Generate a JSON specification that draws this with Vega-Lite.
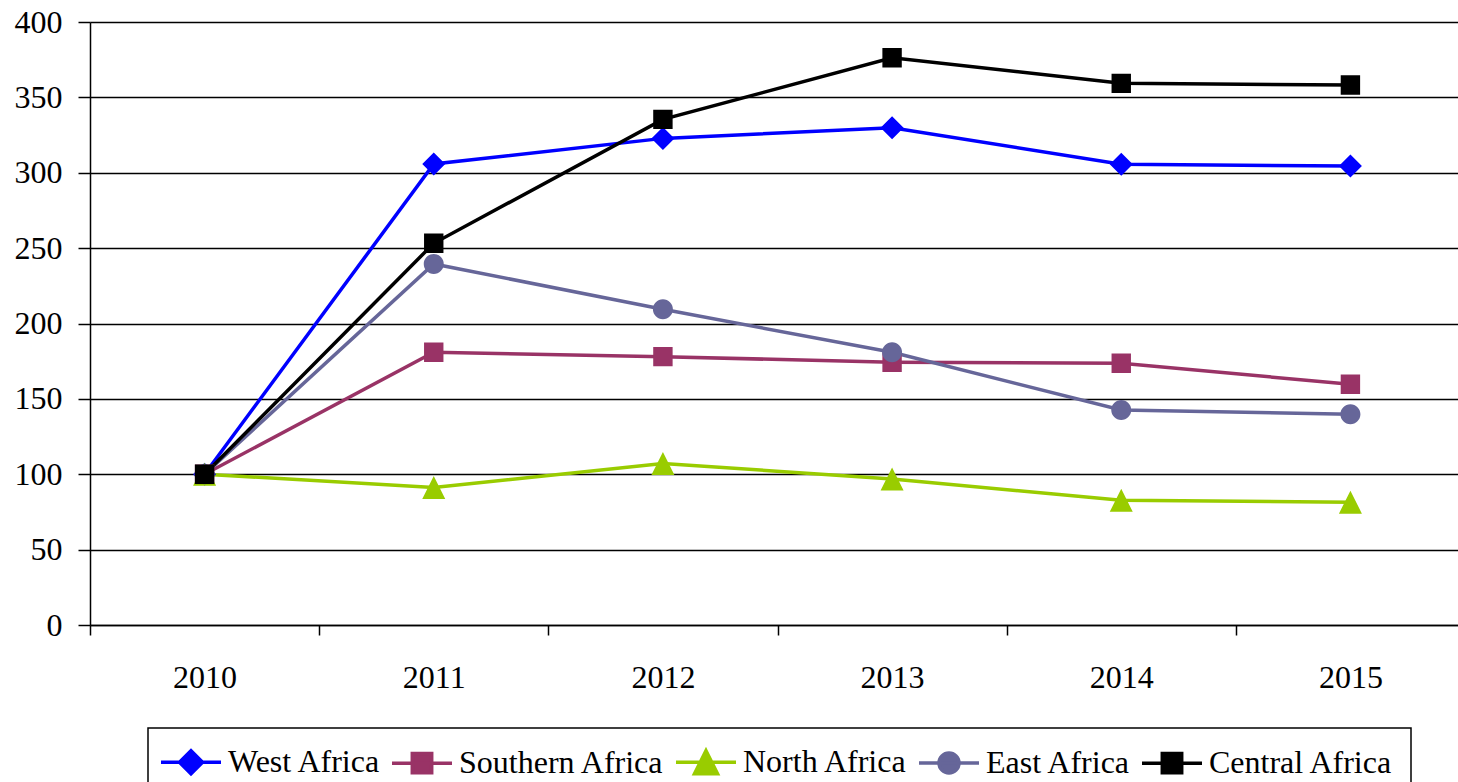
{
  "$schema": "https://vega.github.io/schema/vega-lite/v6.json",
  "autosize": {"type": "none"},
  "padding": {"left": 90, "top": 22, "right": 0, "bottom": 157},
  "width": 1368,
  "height": 603,
  "background": "white",
  "data": {
    "values": [
      {"series": "West Africa", "year": "2010", "value": 100},
      {"series": "West Africa", "year": "2011", "value": 305.8},
      {"series": "West Africa", "year": "2012", "value": 322.8},
      {"series": "West Africa", "year": "2013", "value": 329.9},
      {"series": "West Africa", "year": "2014", "value": 305.6},
      {"series": "West Africa", "year": "2015", "value": 304.5},
      {"series": "Southern Africa", "year": "2010", "value": 100},
      {"series": "Southern Africa", "year": "2011", "value": 180.9},
      {"series": "Southern Africa", "year": "2012", "value": 178},
      {"series": "Southern Africa", "year": "2013", "value": 174.3},
      {"series": "Southern Africa", "year": "2014", "value": 173.6},
      {"series": "Southern Africa", "year": "2015", "value": 159.7},
      {"series": "North Africa", "year": "2010", "value": 100},
      {"series": "North Africa", "year": "2011", "value": 91.2},
      {"series": "North Africa", "year": "2012", "value": 107.2},
      {"series": "North Africa", "year": "2013", "value": 96.8},
      {"series": "North Africa", "year": "2014", "value": 82.7},
      {"series": "North Africa", "year": "2015", "value": 81.5},
      {"series": "East Africa", "year": "2010", "value": 100},
      {"series": "East Africa", "year": "2011", "value": 239.5},
      {"series": "East Africa", "year": "2012", "value": 209.4},
      {"series": "East Africa", "year": "2013", "value": 180.9},
      {"series": "East Africa", "year": "2014", "value": 142.6},
      {"series": "East Africa", "year": "2015", "value": 139.8},
      {"series": "Central Africa", "year": "2010", "value": 100},
      {"series": "Central Africa", "year": "2011", "value": 253.2},
      {"series": "Central Africa", "year": "2012", "value": 335.4},
      {"series": "Central Africa", "year": "2013", "value": 376.3},
      {"series": "Central Africa", "year": "2014", "value": 359.3},
      {"series": "Central Africa", "year": "2015", "value": 358.2}
    ]
  },
  "encoding": {
    "x": {
      "field": "year",
      "type": "ordinal",
      "scale": {"range": [0, 1375], "paddingInner": 0, "paddingOuter": 0},
      "axis": {
        "title": null,
        "labelAngle": 0,
        "labelFont": "Liberation Serif",
        "labelFontSize": 32,
        "tickBand": "extent",
        "tickSize": 10,
        "labelPadding": 27,
        "grid": false
      }
    },
    "y": {
      "field": "value",
      "type": "quantitative",
      "scale": {"domain": [0, 400], "nice": false},
      "axis": {
        "title": null,
        "labelFont": "Liberation Serif",
        "labelFontSize": 32,
        "values": [0, 50, 100, 150, 200, 250, 300, 350, 400],
        "tickSize": 12,
        "labelPadding": 16,
        "grid": true
      }
    },
    "color": {
      "field": "series",
      "type": "nominal",
      "scale": {
        "domain": ["West Africa", "Southern Africa", "North Africa", "East Africa", "Central Africa"],
        "range": ["#0000FF", "#993366", "#99CC00", "#666699", "#000000"]
      },
      "legend": {
        "title": null,
        "orient": "none",
        "legendX": 58,
        "legendY": 706,
        "direction": "horizontal",
        "columns": 5,
        "columnPadding": 4,
        "padding": 18,
        "strokeColor": "black",
        "labelFont": "Liberation Serif",
        "labelFontSize": 32,
        "labelColor": "black",
        "labelLimit": 0,
        "symbolSize": 400,
        "symbolOffset": 9,
        "labelOffset": 21,
        "symbolStrokeWidth": 3.5,
        "encode": {
          "symbols": {"update": {"stroke": {"scale": "color", "field": "value"}, "strokeWidth": {"value": 3.5}}}
        }
      }
    }
  },
  "layer": [
    {
      "mark": {"type": "line", "strokeWidth": 3.5}
    },
    {
      "mark": {"type": "point", "filled": true, "opacity": 1, "size": 400},
      "encoding": {
        "shape": {
          "field": "series",
          "type": "nominal",
          "scale": {
            "domain": ["West Africa", "Southern Africa", "North Africa", "East Africa", "Central Africa"],
            "range": [
              "M-3,0L3,0M-1.15,0L0,-1.15L1.15,0L0,1.15Z",
              "M-3,0L3,0M-0.97,-0.97L0.97,-0.97L0.97,0.97L-0.97,0.97Z",
              "M-3,0L3,0M0,-1.15L1.15,1.15L-1.15,1.15Z",
              "M-3,0L3,0M-1,0A1,1 0 1,0 1,0A1,1 0 1,0 -1,0Z",
              "M-3,0L3,0M-0.97,-0.97L0.97,-0.97L0.97,0.97L-0.97,0.97Z"
            ]
          }
        }
      }
    }
  ],
  "config": {
    "view": {"stroke": null},
    "font": "Liberation Serif",
    "legend": {"strokeWidth": 1.5},
    "axis": {
      "labelFont": "Liberation Serif",
      "labelFontSize": 32,
      "labelColor": "black",
      "domainColor": "black",
      "domainWidth": 1.5,
      "tickColor": "black",
      "tickWidth": 1.5,
      "gridColor": "black",
      "gridWidth": 1.3,
      "gridOpacity": 1
    }
  }
}
